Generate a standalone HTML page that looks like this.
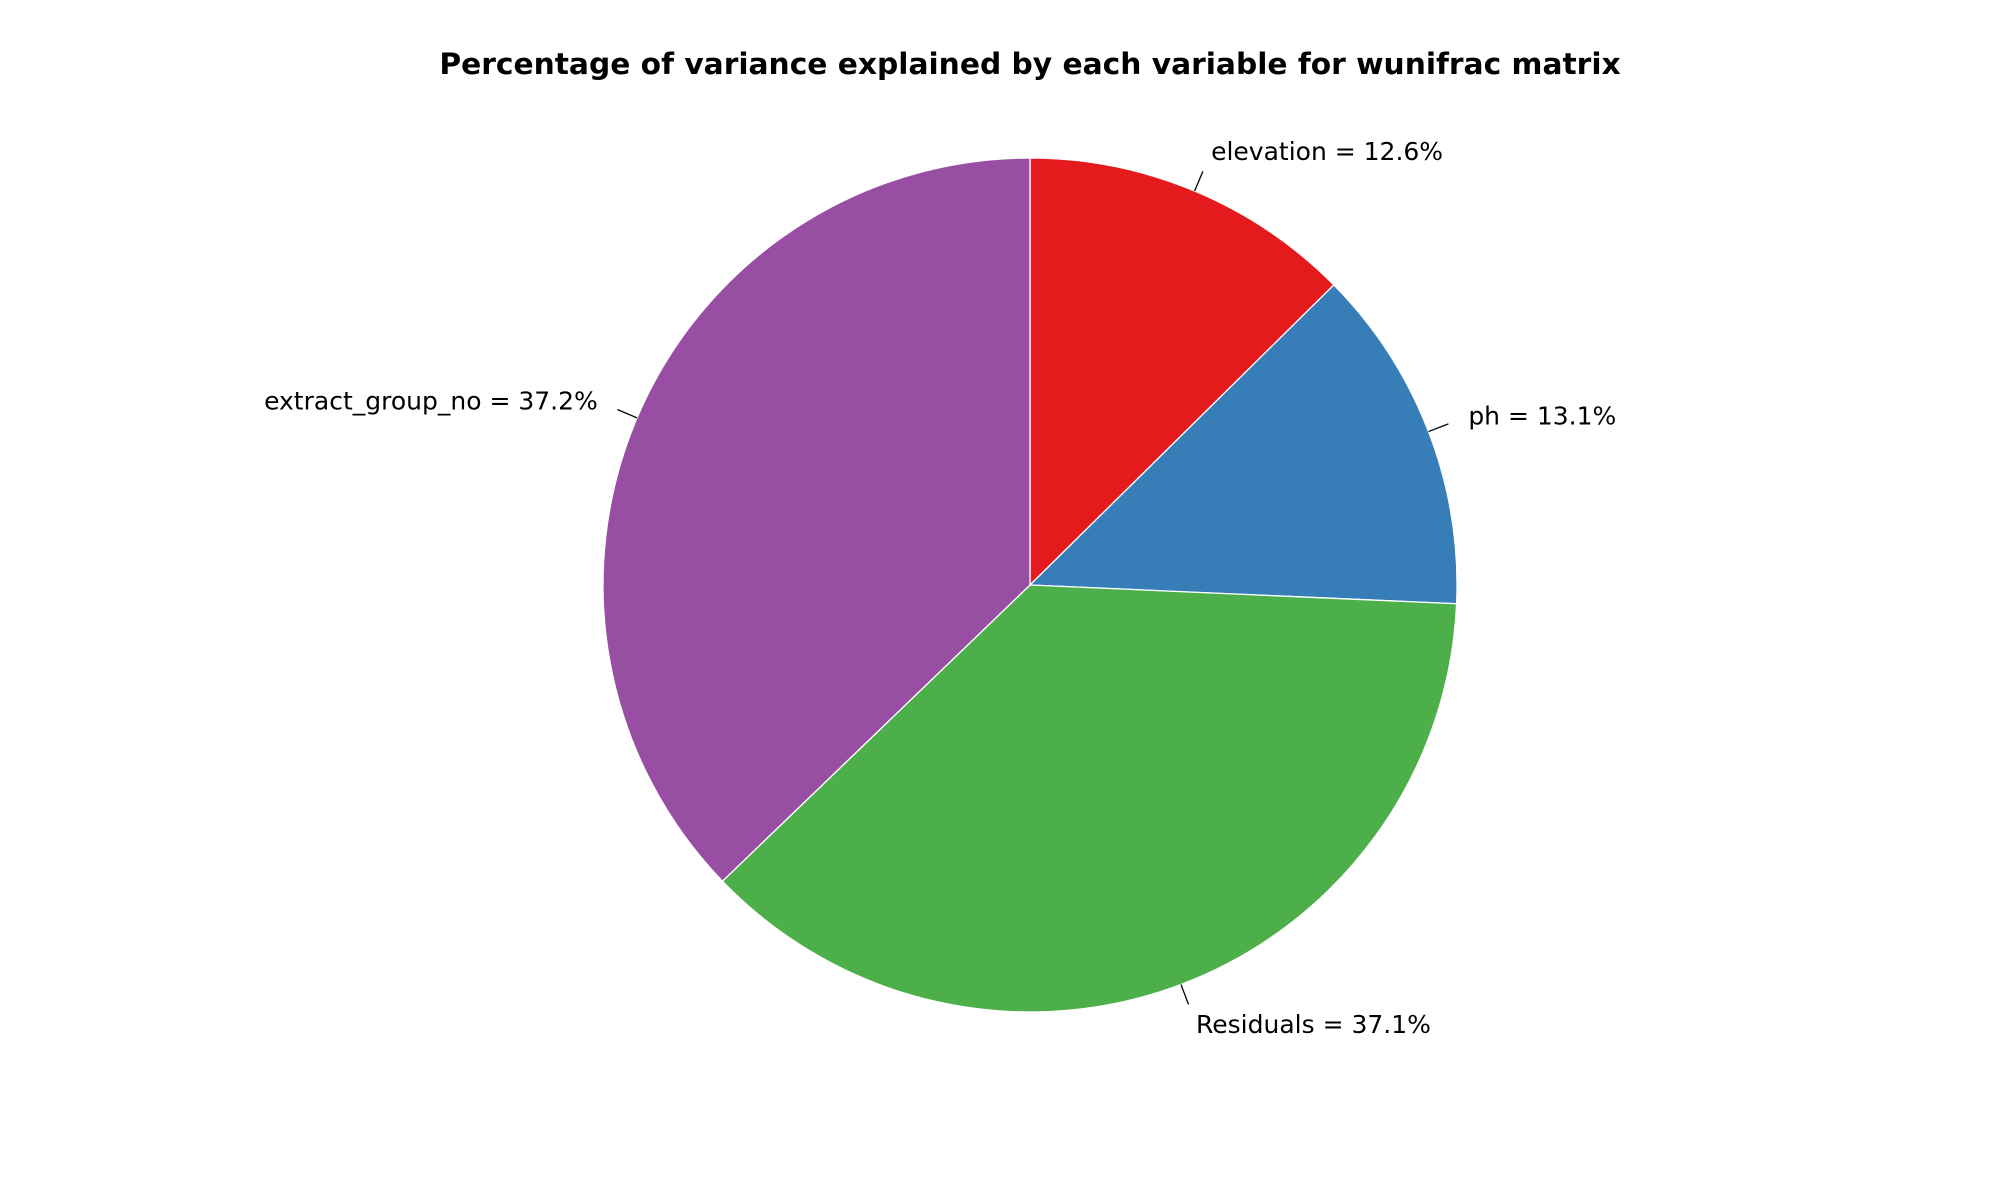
<!DOCTYPE html>
<html><head><meta charset="utf-8"><style>
html,body{margin:0;padding:0;background:#fff;}
svg{display:block;font-family:"DejaVu Sans","Liberation Sans",sans-serif;}
</style></head><body>
<svg id="chart" width="2000" height="1200" viewBox="0 0 2000 1200">
<text x="1030" y="74" text-anchor="middle" font-size="29.7" font-weight="bold">Percentage of variance explained by each variable for wunifrac matrix</text>
<g id="slices"></g><g id="labels"></g>
</svg>
<script>
const categories = ["elevation", "ph", "Residuals", "extract_group_no"];
const values = [12.6, 13.1, 37.1, 37.2];
const colors = ["#e41a1c", "#377eb8", "#4daf4a", "#984ea3"];
const cx = 1030, cy = 585, r = 427;
const NS = "http://www.w3.org/2000/svg";
const gS = document.getElementById("slices"), gL = document.getElementById("labels");
const total = values.reduce((a,b)=>a+b,0);
function pt(angDeg, rad){const a=angDeg*Math.PI/180;return [cx+rad*Math.cos(a), cy-rad*Math.sin(a)];}
let start = 90;
values.forEach((v,i)=>{
  const sweep = v/total*360, end = start - sweep;
  const [x1,y1]=pt(start,r),[x2,y2]=pt(end,r);
  const p=document.createElementNS(NS,"path");
  p.setAttribute("d",`M${cx},${cy} L${x1},${y1} A${r},${r} 0 ${sweep>180?1:0} 1 ${x2},${y2} Z`);
  p.setAttribute("fill",colors[i]);p.setAttribute("stroke","#fff");p.setAttribute("stroke-width","1.3");
  
  
  gS.appendChild(p);
  const mid = start - sweep/2;
  const [lx1,ly1]=pt(mid,r),[lx2,ly2]=pt(mid,r*1.05);
  const ln=document.createElementNS(NS,"line");
  ln.setAttribute("x1",lx1);ln.setAttribute("y1",ly1);ln.setAttribute("x2",lx2);ln.setAttribute("y2",ly2);
  ln.setAttribute("stroke","#000");ln.setAttribute("stroke-width","1.3");
  
  
  gL.appendChild(ln);
  const [tx,ty]=pt(mid,r*1.1);
  const t=document.createElementNS(NS,"text");
  const right=Math.cos(mid*Math.PI/180)>=0;
  t.setAttribute("x",tx);t.setAttribute("y",ty);t.setAttribute("dominant-baseline","central");
  t.setAttribute("text-anchor",right?"start":"end");t.setAttribute("font-size","25");
  t.textContent = categories[i]+" = "+v.toFixed(1)+"%";
  
  
  gL.appendChild(t);
  start = end;
});
</script>
</body></html>
